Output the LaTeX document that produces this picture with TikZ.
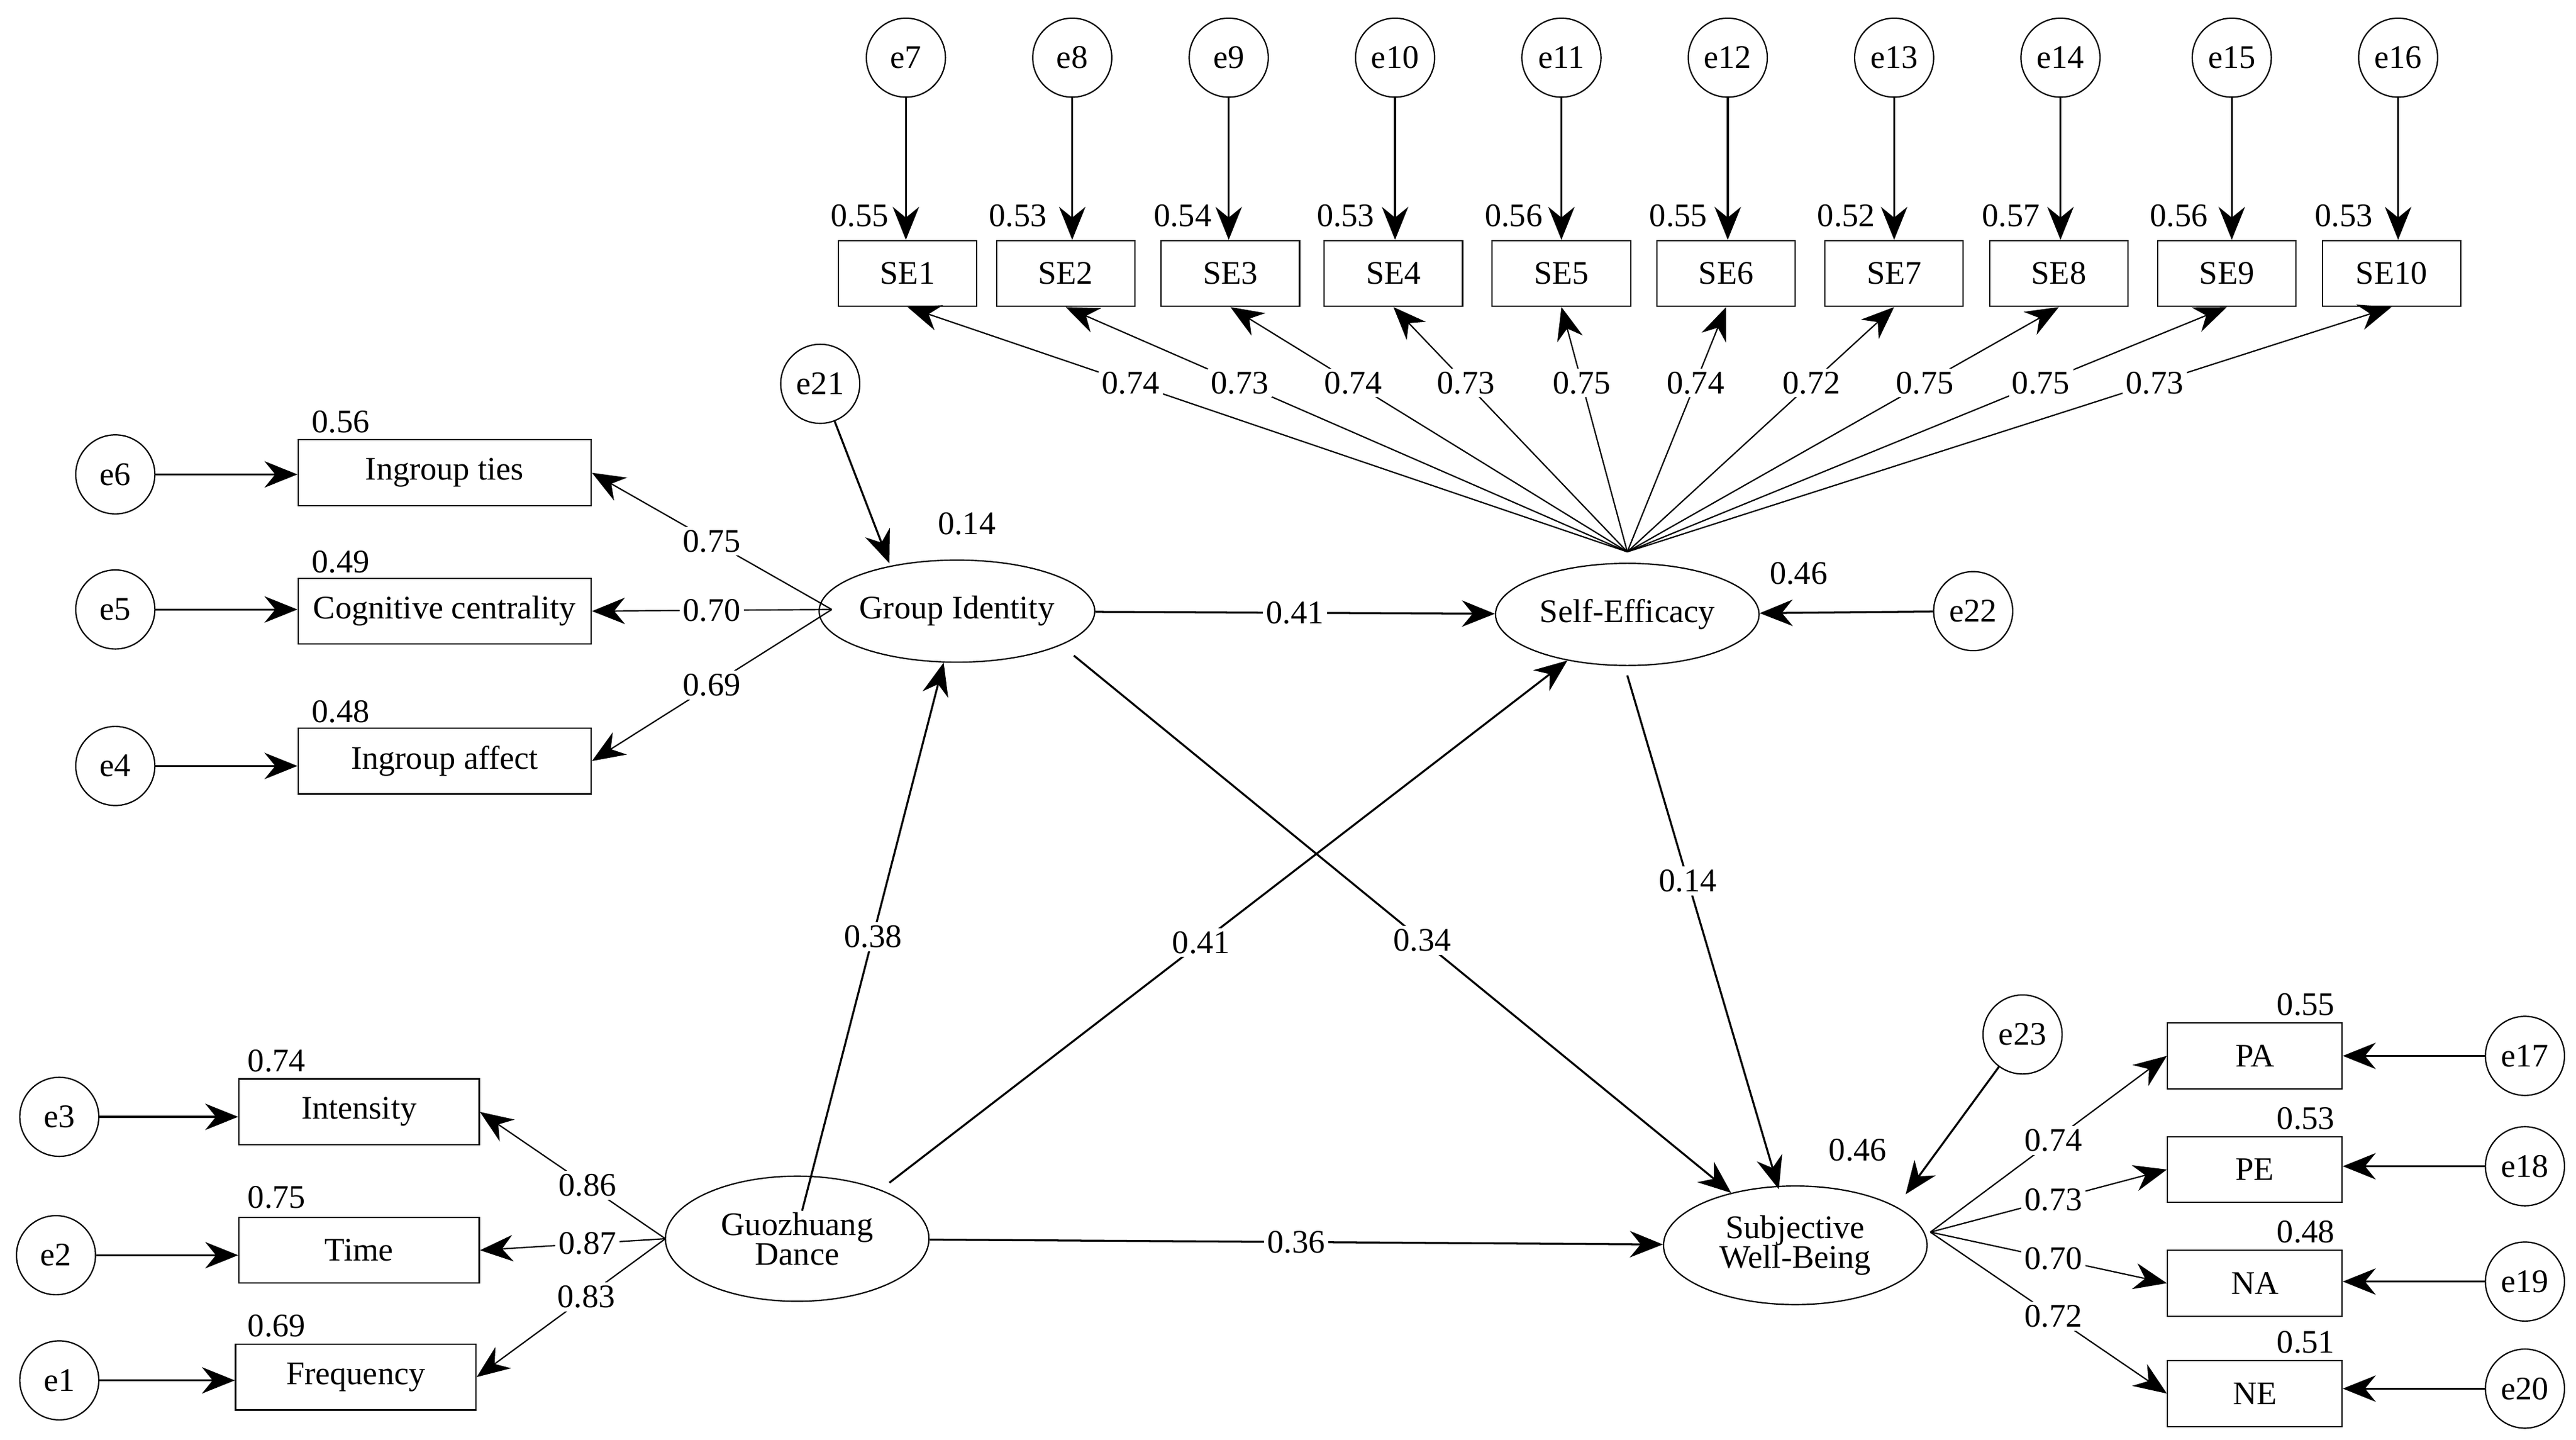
\documentclass[tikz,border=0pt]{standalone}
\usepackage{fontspec}
\setmainfont{Liberation Serif}
\usetikzlibrary{arrows.meta,shapes.geometric}
\begin{document}
\begin{tikzpicture}[x=0.5pt,y=-0.5pt,
  font=\fontsize{10}{11}\selectfont,
  err/.style={circle,draw,minimum size=24pt,inner sep=0pt},
  obs/.style={rectangle,draw,minimum height=20pt,inner sep=1pt},
  lat/.style={ellipse,draw,minimum width=80pt,minimum height=31pt,inner sep=0pt,align=center},
  arr/.style={-{Stealth[length=10pt,width=8pt]},line width=0.6pt},
  fan/.style={-{Stealth[length=10pt,width=8pt]},line width=0.4pt},
  lab/.style={fill=white,inner sep=1pt},
  var/.style={inner sep=0pt}]
\useasboundingbox (0,0) rectangle (1564,874);
% SE indicators
\foreach \i/\ex/\bx/\v in {1/550/551/0.55,2/651/647/0.53,3/746/747/0.54,4/847/846/0.53,5/948/948/0.56,6/1049/1048/0.55,7/1150/1150/0.52,8/1251/1250/0.57,9/1355/1352/0.56,10/1456/1452/0.53}{
  \pgfmathtruncatemacro{\e}{\i+6}
  \node[err] (e\e) at (\ex,35) {e\e};
  \node[obs,minimum width=42pt] (SE\i) at (\bx,166) {SE\i};
  \draw[arr] (e\e) -- (SE\i.north-|e\e);
  \node[var] at (\bx-29,131) {\v};
}
\node[lat] (SEf) at (988,373) {Self-Efficacy};
\coordinate (so) at (988,335);
\foreach \i/\v in {1/0.74,2/0.73,3/0.74,4/0.73,5/0.75,6/0.74,7/0.72,8/0.75,9/0.75,10/0.73}{
  \draw[fan] (so) -- node[lab,pos=0.69]{\v} (SE\i.south);
}
% Group identity
\node[lat] (GI) at (581,371) {Group Identity};
\coordinate (go) at (505,370);
\node[obs,minimum width=89pt] (IT) at (270,287) {Ingroup ties};
\node[obs,minimum width=89pt] (CC) at (270,371) {Cognitive centrality};
\node[obs,minimum width=89pt] (IA) at (270,462) {Ingroup affect};
\node[err] (e6) at (70,288) {e6};
\node[err] (e5) at (70,370) {e5};
\node[err] (e4) at (70,465) {e4};
\draw[arr] (e6) -- (IT.west|-e6);
\draw[arr] (e5) -- (CC.west|-e5);
\draw[arr] (e4) -- (IA.west|-e4);
\node[var] at (207,256) {0.56};
\node[var] at (207,341) {0.49};
\node[var] at (207,432) {0.48};
\draw[fan] (go) -- node[lab,pos=0.5]{0.75} (IT.east);
\draw[fan] (go) -- node[lab,pos=0.5]{0.70} (CC.east);
\draw[fan] (go) -- node[lab,pos=0.5]{0.69} (IA.east);
\node[err] (e21) at (498,233) {e21};
\draw[arr] (e21) -- (540,342);
\node[var] at (587,318) {0.14};
\node[err] (e22) at (1198,371) {e22};
\draw[arr] (e22) -- (SEf);
\node[var] at (1092,348) {0.46};
% Guozhuang dance
\node[lat,minimum height=38pt] (GD) at (484,752) {Guozhuang\\[-2pt]Dance};
\coordinate (do) at (404,752);
\node[obs,minimum width=73pt] (IN) at (218,675) {Intensity};
\node[obs,minimum width=73pt] (TI) at (218,759) {Time};
\node[obs,minimum width=73pt] (FR) at (216,836) {Frequency};
\node[err] (e3) at (36,678) {e3};
\node[err] (e2) at (34,762) {e2};
\node[err] (e1) at (36,838) {e1};
\draw[arr] (e3) -- (IN.west|-e3);
\draw[arr] (e2) -- (TI.west|-e2);
\draw[arr] (e1) -- (FR.west|-e1);
\node[var] at (168,644) {0.74};
\node[var] at (168,727) {0.75};
\node[var] at (168,805) {0.69};
\draw[fan] (do) -- node[lab,pos=0.42]{0.86} (IN.east);
\draw[fan] (do) -- node[lab,pos=0.42]{0.87} (TI.east);
\draw[fan] (do) -- node[lab,pos=0.42]{0.83} (FR.east);
% SWB
\node[lat,minimum height=36pt] (SWB) at (1090,756) {Subjective\\[-2pt]Well-Being};
\coordinate (wo) at (1172,748);
\foreach \n/\y/\ey/\v/\l in {PA/641/641/0.55/0.74,PE/710/708/0.53/0.73,NA/779/778/0.48/0.70,NE/846/843/0.51/0.72}{
  \node[obs,minimum width=53pt] (\n) at (1369,\y) {\n};
  \node[var] at (1400,\y-31) {\v};
  \draw[fan] (wo) -- node[lab,pos=0.52]{\l} (\n.west);
}
\node[err] (e17) at (1533,641) {e17};
\node[err] (e18) at (1533,708) {e18};
\node[err] (e19) at (1533,778) {e19};
\node[err] (e20) at (1533,843) {e20};
\draw[arr] (e17) -- (PA.east|-e17);
\draw[arr] (e18) -- (PE.east|-e18);
\draw[arr] (e19) -- (NA.east|-e19);
\draw[arr] (e20) -- (NE.east|-e20);
\node[err] (e23) at (1228,628) {e23};
\draw[arr] (e23) -- (1157,725);
\node[var] at (1128,698) {0.46};
% structural paths
\draw[arr] (GI) -- node[lab]{0.41} (SEf);
\draw[arr] (487,735) -- node[lab]{0.38} (GI);
\draw[arr] (540,718) -- node[lab,pos=0.46]{0.41} (SEf);
\draw[arr] (652,398) -- node[lab,pos=0.53]{0.34} (SWB);
\draw[arr] (988,410) -- node[lab,pos=0.4]{0.14} (1080,722);
\draw[arr] (GD) -- node[lab]{0.36} (SWB);
\end{tikzpicture}
\end{document}
